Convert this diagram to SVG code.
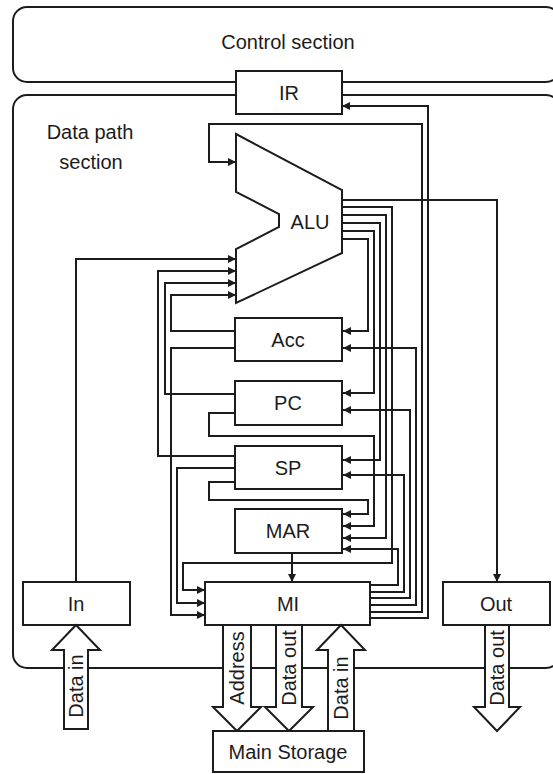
<svg xmlns="http://www.w3.org/2000/svg" width="553" height="774" viewBox="0 0 553 774">
<style>
.sec{fill:#fff;stroke:#1c1c1c;stroke-width:2}
.box{fill:#fff;stroke:#1c1c1c;stroke-width:2}
.w{fill:none;stroke:#1c1c1c;stroke-width:2;marker-end:url(#ah)}
.wn{fill:none;stroke:#1c1c1c;stroke-width:2}
.t{font-family:"Liberation Sans",Arial,sans-serif;font-size:20px;fill:#1c1c1c;text-anchor:middle;dominant-baseline:central}
.ba{fill:#fff;stroke:#1c1c1c;stroke-width:2;stroke-linejoin:miter}
</style>
<defs>
<marker id="ah" viewBox="0 0 8 8" refX="8" refY="4" markerWidth="8" markerHeight="8" markerUnits="userSpaceOnUse" orient="auto">
<path d="M0,0 L8,4 L0,8 Z" fill="#1c1c1c"/>
</marker>
</defs>
<rect width="553" height="774" fill="#fff"/>
<g id="control-section">
<rect class="sec" x="13" y="7" width="547" height="75" rx="14"/>
<text class="t" x="288" y="42">Control section</text>
</g>
<g id="data-path-section">
<rect class="sec" x="13" y="95" width="547" height="573" rx="14"/>
<text class="t" x="90" y="132">Data path</text>
<text class="t" x="91" y="162">section</text>
</g>
<g id="connectors">
<polyline class="w" points="76,582 76,259 236,259"/>
<polyline class="w" points="235,456 158,456 158,271 236,271"/>
<polyline class="w" points="235,394 165,394 165,283 236,283"/>
<polyline class="w" points="235,331 171,331 171,295 236,295"/>
<polyline class="w" points="370,612 422,612 422,124 209,124 209,162 236,162"/>
<polyline class="w" points="370,618 428,618 428,106 342,106"/>
<polyline class="w" points="342,200 497,200 497,582"/>
<polyline class="w" points="342,207 392,207 392,563 183,563 183,590 205,590"/>
<polyline class="w" points="342,215 386,215 386,538 343,538"/>
<polyline class="w" points="342,223 380,223 380,460 343,460"/>
<polyline class="w" points="342,231 374,231 374,393 343,393"/>
<polyline class="w" points="342,239 368,239 368,331 343,331"/>
<polyline class="w" points="235,348 171,348 171,615 205,615"/>
<polyline class="w" points="235,468 177,468 177,603 205,603"/>
<polyline class="w" points="235,413 209,413 209,436 374,436 374,526 343,526"/>
<polyline class="w" points="235,482 209,482 209,500 368,500 368,514 343,514"/>
<polyline class="w" points="292,553 292,582"/>
<polyline class="w" points="370,585 398,585 398,549 343,549"/>
<polyline class="w" points="370,592 404,592 404,475 343,475"/>
<polyline class="w" points="370,598 410,598 410,410 343,410"/>
<polyline class="w" points="370,605 416,605 416,348 343,348"/>
</g>
<g id="IR">
<rect class="box" x="236" y="71" width="106" height="43"/>
<text class="t" x="289" y="93">IR</text>
</g>
<g id="ALU">
<path class="box" d="M236,134 L342,190 L342,253 L236,303 L236,249 L279,227 L279,214 L236,192 Z"/>
<text class="t" x="310" y="222">ALU</text>
</g>
<g id="Acc">
<rect class="box" x="235" y="318" width="107" height="43"/>
<text class="t" x="288" y="340">Acc</text>
</g>
<g id="PC">
<rect class="box" x="235" y="381" width="107" height="44"/>
<text class="t" x="288" y="403">PC</text>
</g>
<g id="SP">
<rect class="box" x="235" y="446" width="107" height="43"/>
<text class="t" x="288" y="468">SP</text>
</g>
<g id="MAR">
<rect class="box" x="235" y="509" width="107" height="44"/>
<text class="t" x="288" y="531">MAR</text>
</g>
<g id="MI">
<rect class="box" x="205" y="582" width="165" height="43"/>
<text class="t" x="288" y="604">MI</text>
</g>
<g id="In">
<rect class="box" x="23" y="582" width="107" height="43"/>
<text class="t" x="76" y="604">In</text>
</g>
<g id="Out">
<rect class="box" x="443" y="582" width="107" height="43"/>
<text class="t" x="496" y="604">Out</text>
</g>
<g id="data-in-left">
<path class="ba" d="M64,729 L64,650 L52,650 L76,625 L100,650 L88,650 L88,729 Z"/>
<text class="t" transform="translate(76,686) rotate(-90)">Data in</text>
</g>
<g id="address-bus">
<path class="ba" d="M223,625 L223,707 L213,707 L237,731 L261,707 L251,707 L251,625 Z"/>
<text class="t" transform="translate(237,668) rotate(-90)">Address</text>
</g>
<g id="data-out-mem">
<path class="ba" d="M276,625 L276,707 L265,707 L289,731 L313,707 L302,707 L302,625 Z"/>
<text class="t" transform="translate(289,668) rotate(-90)">Data out</text>
</g>
<g id="data-in-mem">
<path class="ba" d="M328,731 L328,650 L317,650 L341,625 L365,650 L354,650 L354,731 Z"/>
<text class="t" transform="translate(341,688) rotate(-90)">Data in</text>
</g>
<g id="data-out-right">
<path class="ba" d="M485,625 L485,707 L474,707 L497,731 L520,707 L509,707 L509,625 Z"/>
<text class="t" transform="translate(497,668) rotate(-90)">Data out</text>
</g>
<g id="main-storage">
<rect class="box" x="213" y="731" width="151" height="41"/>
<text class="t" x="288" y="752">Main Storage</text>
</g>
</svg>
